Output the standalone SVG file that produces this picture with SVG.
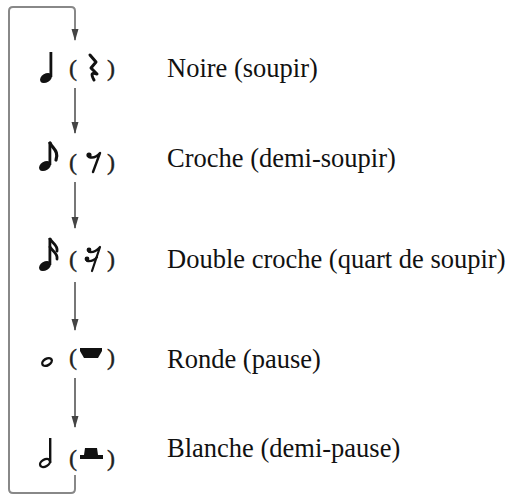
<svg xmlns="http://www.w3.org/2000/svg" width="506" height="498" viewBox="0 0 506 498">
<style>
.lbl{font-family:"Liberation Serif","Times New Roman",serif;font-size:26.5px;fill:#111}
.par{font-family:"Liberation Serif","Times New Roman",serif;font-size:24px;fill:#222;stroke:#222;stroke-width:0.4}
.conn{fill:none;stroke:#555;stroke-width:1.6}
.loop{fill:none;stroke:#888;stroke-width:2}
.ink{fill:#111;stroke:none}
.inks{fill:none;stroke:#111;stroke-linecap:round;stroke-linejoin:round}
.hollow{fill:#fff;stroke:#111;stroke-width:2.4}
</style>
<defs>
<marker id="a2" markerUnits="userSpaceOnUse" markerWidth="12" markerHeight="8" refX="11" refY="4" orient="auto" viewBox="0 0 12 8">
<path d="M0,0.5 L12,4 L0,7.5 Z" fill="#444"/>
</marker>
</defs>
<rect width="506" height="498" fill="#fff"/>
<g id="connectors">
<path class="loop" d="M75,475 L75,489 Q75,493 71,493 L13,493 Q9,493 9,489 L9,11 Q9,7 13,7 L71,7 Q75,7 75,11 L75,40" marker-end="url(#a2)"/>
<line class="conn" x1="75" y1="88" x2="75" y2="133" marker-end="url(#a2)"/>
<line class="conn" x1="75" y1="182" x2="75" y2="228" marker-end="url(#a2)"/>
<line class="conn" x1="75" y1="282" x2="75" y2="330" marker-end="url(#a2)"/>
<line class="conn" x1="75" y1="378" x2="75" y2="427" marker-end="url(#a2)"/>
</g>
<g id="noire">
<ellipse class="ink" cx="46" cy="78" rx="6.5" ry="4.3" transform="rotate(-32 46 78)"/>
<rect class="ink" x="49.5" y="52" width="2.8" height="25"/>
<text class="par" x="69" y="76">(</text>
<path class="inks" stroke-width="3" d="M90,55 L96,62 L91,68 L97,74 Q89,71 94,80"/>
<text class="par" x="107" y="76">)</text>
<text class="lbl" x="167" y="77">Noire (soupir)</text>
</g>
<g id="croche">
<ellipse class="ink" cx="45" cy="166" rx="6.5" ry="4.3" transform="rotate(-32 45 166)"/>
<rect class="ink" x="48.5" y="142" width="2.8" height="23"/>
<path class="inks" stroke-width="3.2" d="M50,143 C53,149 59,151 56,160"/>
<text class="par" x="69" y="170">(</text>
<circle class="ink" cx="89" cy="155" r="2.6"/>
<path class="inks" stroke-width="2.4" d="M89,157 Q95,159 100,153 L93,172"/>
<text class="par" x="107" y="170">)</text>
<text class="lbl" x="167" y="167">Croche (demi-soupir)</text>
</g>
<g id="double-croche">
<ellipse class="ink" cx="45" cy="266" rx="6.5" ry="4.3" transform="rotate(-32 45 266)"/>
<rect class="ink" x="48.5" y="238" width="2.8" height="27"/>
<path class="inks" stroke-width="2.8" d="M50,239 C53,244 58,245 57,251"/>
<path class="inks" stroke-width="2.8" d="M50,247 C53,252 58,253 57,259"/>
<text class="par" x="69" y="267">(</text>
<circle class="ink" cx="89" cy="250" r="2.4"/>
<path class="inks" stroke-width="2.2" d="M89,252 Q95,253 100,247 L92,271"/>
<circle class="ink" cx="87" cy="259" r="2.4"/>
<path class="inks" stroke-width="2.2" d="M87,261 Q93,262 97,257"/>
<text class="par" x="107" y="267">)</text>
<text class="lbl" x="167" y="268">Double croche (quart de soupir)</text>
</g>
<g id="ronde">
<ellipse class="hollow" cx="47" cy="362" rx="5.2" ry="3.3" transform="rotate(-30 47 362)"/>
<text class="par" x="69" y="365">(</text>
<path class="ink" d="M80,348 L102,348 L102,351 L98,358 L84,358 L80,351 Z"/>
<text class="par" x="107" y="365">)</text>
<text class="lbl" x="167" y="368">Ronde (pause)</text>
</g>
<g id="blanche">
<ellipse class="hollow" cx="45" cy="463" rx="5.4" ry="3.4" transform="rotate(-30 45 463)"/>
<rect class="ink" x="49" y="438" width="2.4" height="25"/>
<text class="par" x="69" y="466">(</text>
<path class="ink" d="M85,448 L97,448 L98,455 L103,455 L103,459 L80,459 L80,455 L84,455 Z"/>
<text class="par" x="107" y="466">)</text>
<text class="lbl" x="167" y="457">Blanche (demi-pause)</text>
</g>
</svg>
